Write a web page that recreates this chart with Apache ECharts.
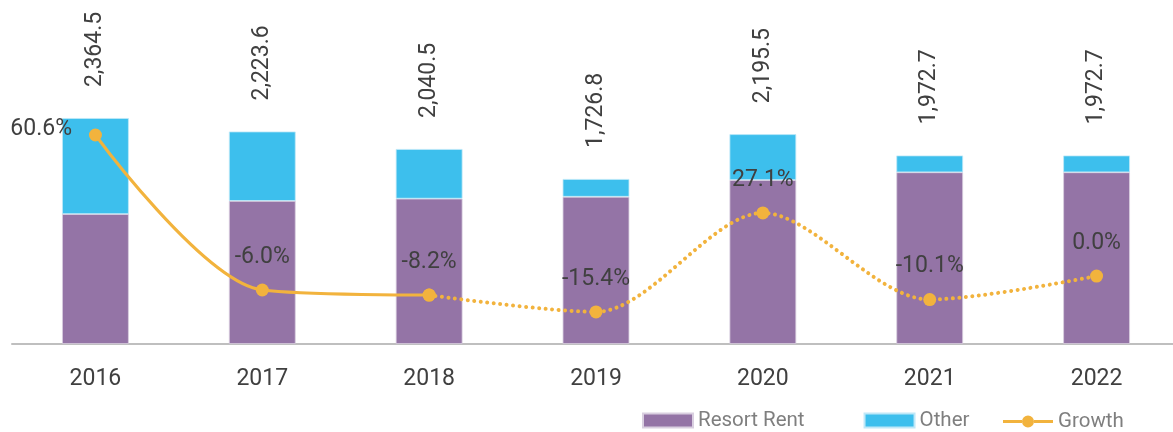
<!DOCTYPE html>
<html>
<head>
<meta charset="utf-8">
<script src="https://cdn.jsdelivr.net/npm/echarts@6/dist/echarts.min.js"></script>
<style>
  html, body { margin: 0; padding: 0; background: #ffffff; overflow: hidden; }
  /* the plot runs a few pixels past the right edge of the window */
  #chart { width: 1181px; height: 432px; }
</style>
</head>
<body>
<div id="chart"></div>
<script>
// Revenue by year, split into resort rent and other income, with year-on-year growth
const years = ['2016', '2017', '2018', '2019', '2020', '2021', '2022'];
const resortRent = [1360.0, 1497.0, 1521.0, 1541.0, 1716.0, 1797.0, 1797.0];
const other = [1004.5, 726.6, 519.5, 185.8, 479.5, 175.7, 175.7];
const growth = [60.6, -6.0, -8.2, -15.4, 27.1, -10.1, 0.0];
// growth is drawn solid up to this year index and dotted afterwards
const solidUntil = 2;

const FONT = 'Roboto, sans-serif';
const TEXT = '#404040';
const GOLD = '#f2b33d';

function fmtTotal(v) {
  return v.toFixed(1).replace(/\B(?=(\d{3})+(?!\d))/g, ',');
}
function fmtPct(v) {
  return v.toFixed(1) + '%';
}

const totals = years.map((_, i) => resortRent[i] + other[i]);
const growthSolid = growth.map((v, i) => (i <= solidUntil ? v : null));
const growthDotted = growth.map((v, i) => (i >= solidUntil ? v : null));

// legend marker for the growth line: a stroke with a dot in the middle
const lineDotIcon = 'path://M0,4.5h19v3H0z M31,4.5h19v3H31z M19,6a6,6 0 1,0 12,0a6,6 0 1,0 -12,0z';

const chart = echarts.init(document.getElementById('chart'), null, { renderer: 'canvas' });

const growthLabel = {
  show: true,
  position: 'top',
  distance: 15,
  fontFamily: FONT,
  fontSize: 23,
  color: TEXT
};

const legendText = { fontFamily: FONT, fontSize: 20.5, color: '#7f7f7f' };

chart.setOption({
  animation: false,
  backgroundColor: '#ffffff',
  textStyle: { fontFamily: FONT },
  grid: { left: 12, top: 0, width: 1168, height: 344, containLabel: false },
  legend: [
    {
      left: 637,
      top: 405,
      itemWidth: 50,
      itemHeight: 14,
      itemGap: 59,
      textStyle: legendText,
      data: [
        { name: 'Resort Rent', icon: 'rect' },
        { name: 'Other', icon: 'rect' }
      ]
    },
    {
      left: 998,
      top: 406,
      itemWidth: 50,
      itemHeight: 12,
      textStyle: legendText,
      data: [{ name: 'Growth', icon: lineDotIcon }]
    }
  ],
  xAxis: {
    type: 'category',
    data: years,
    axisTick: { show: false },
    axisLine: { lineStyle: { color: '#bfbfbf', width: 2 } },
    axisLabel: { color: TEXT, fontFamily: FONT, fontSize: 23, margin: 24 }
  },
  yAxis: [
    { type: 'value', min: 0, max: 3600, show: false, splitLine: { show: false } },
    { type: 'value', min: -29.2, max: 118.6, show: false, splitLine: { show: false } }
  ],
  series: [
    {
      name: 'Resort Rent',
      type: 'bar',
      stack: 'rev',
      barWidth: '40%',
      data: resortRent,
      itemStyle: { color: '#9474a6', borderColor: '#d9cfe0', borderWidth: 0.8 }
    },
    {
      name: 'Other',
      type: 'bar',
      stack: 'rev',
      barWidth: '40%',
      data: other,
      itemStyle: { color: '#3dbfed', borderColor: '#bfe8f8', borderWidth: 0.8 },
      label: {
        show: true,
        position: 'top',
        rotate: 90,
        align: 'left',
        verticalAlign: 'middle',
        distance: 31,
        fontFamily: FONT,
        fontSize: 23,
        color: TEXT,
        formatter: (p) => fmtTotal(totals[p.dataIndex])
      }
    },
    {
      name: 'Growth',
      type: 'line',
      yAxisIndex: 1,
      smooth: 0.3,
      data: growthSolid,
      symbol: 'circle',
      symbolSize: 13,
      z: 5,
      itemStyle: { color: GOLD },
      lineStyle: { color: GOLD, width: 3, type: 'solid' },
      label: Object.assign({}, growthLabel, {
        formatter: (p) => fmtPct(p.value)
      }),
      labelLayout: (p) => (p.dataIndex === 0 ? { x: 72, y: 129, align: 'right', verticalAlign: 'middle' } : {})
    },
    {
      name: 'Growth',
      type: 'line',
      yAxisIndex: 1,
      smooth: 0.3,
      data: growthDotted,
      symbol: 'circle',
      symbolSize: 13,
      z: 5,
      itemStyle: { color: GOLD },
      lineStyle: { color: GOLD, width: 4, type: [0.01, 6.5], cap: 'round' },
      label: Object.assign({}, growthLabel, {
        formatter: (p) => (p.dataIndex === solidUntil ? '' : fmtPct(p.value))
      })
    }
  ]
});
</script>
</body>
</html>
